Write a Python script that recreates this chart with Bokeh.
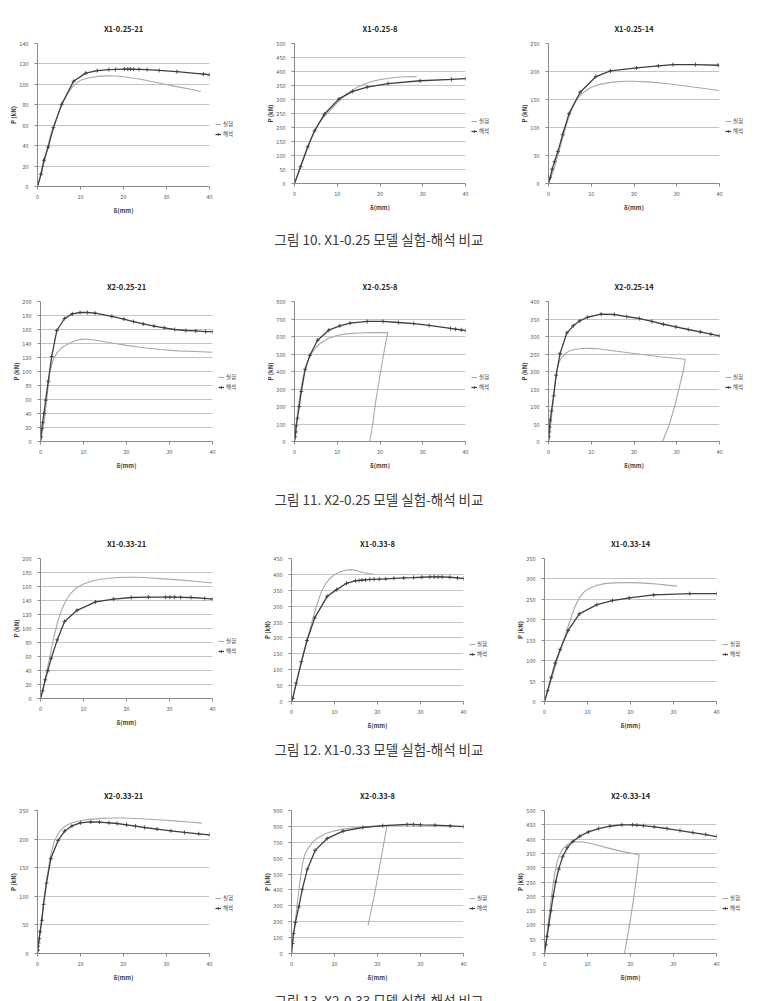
from bokeh.plotting import figure
from bokeh.layouts import column, row
from bokeh.models import Range1d, Legend, LegendItem, FixedTicker
from bokeh.core.properties import value
from bokeh.embed import file_html
from bokeh.resources import INLINE

FONT = "Noto Sans CJK KR"
TEST_COLOR = "#a9a9a9"
FEM_COLOR = "#3f3f3f"

series_labels = ["실험", "해석"]
x_ticks = [0, 10, 20, 30, 40]

# ---- X1-0.25 ----
x1_025_21_test_d = [0, 1, 2, 3, 4, 5, 6, 7, 8, 9, 10, 12, 14, 16, 18, 20, 24, 28, 32, 36, 38]
x1_025_21_test_p = [0, 14, 32, 50, 62, 73, 83, 91, 97, 101, 104, 106.5, 107.8, 108.3, 108.2, 107.5, 105, 101.5, 98, 95, 93]
x1_025_21_fem_d = [0, 0.8, 1.5, 2.5, 3.7, 5.6, 8.4, 11.2, 13.9, 16.6, 18.1, 20.2, 21.0, 21.6, 22.4, 23.6, 25.5, 28.3, 32.4, 38.6, 40]
x1_025_21_fem_p = [0, 12, 25.7, 38.7, 57.6, 80.4, 103, 111, 113.5, 114.5, 114.6, 115, 115, 114.9, 114.8, 114.7, 114.5, 113.6, 112.5, 110, 109.4]
x1_025_21_y_ticks = [0, 20, 40, 60, 80, 100, 120, 140]

x1_025_8_test_d = [0, 1, 2, 3, 4, 5, 6, 7, 8, 10, 12, 14, 16, 18, 20, 22, 24, 26, 28, 28.6]
x1_025_8_test_p = [0, 40, 82, 125, 165, 198, 222, 240, 256, 288, 318, 338, 353, 364, 371, 376, 379.5, 381.5, 382, 381]
x1_025_8_fem_d = [0, 1.4, 3.1, 4.7, 7.0, 10.4, 13.6, 17.0, 21.9, 29.4, 36.7, 40]
x1_025_8_fem_p = [0, 60, 131, 188, 248, 302, 329, 344, 357, 367, 372, 374.5]
x1_025_8_y_ticks = [0, 50, 100, 150, 200, 250, 300, 350, 400, 450, 500]

x1_025_14_test_d = [0, 1, 2, 3, 4, 5, 6, 7, 8, 10, 12, 15, 18, 20, 24, 28, 32, 36, 40]
x1_025_14_test_p = [0, 20, 45, 72, 100, 124, 142, 154, 162, 172, 177, 181, 182.5, 182.5, 181, 178, 174, 170, 166]
x1_025_14_fem_d = [0, 0.4, 0.86, 1.4, 2.2, 3.3, 4.8, 7.4, 11.1, 14.5, 20.6, 25.7, 29.1, 34.4, 39.7]
x1_025_14_fem_p = [0, 10.7, 25.7, 38.8, 57, 87, 124.7, 163, 191, 201, 206.4, 210, 212.4, 212.4, 211.2]
x1_025_14_y_ticks = [0, 50, 100, 150, 200, 250]

# ---- X2-0.25 ----
x2_025_21_test_d = [0, 1, 1.8, 2.2, 3, 4, 5, 6, 7, 8, 9, 10, 11, 12, 14, 16, 18, 20, 24, 28, 32, 36, 40]
x2_025_21_test_p = [0, 35, 80, 100, 118, 128, 134, 138, 141, 143.5, 145.5, 146.3, 146, 145.3, 143.5, 141.5, 139.3, 137.3, 134, 131.5, 129.5, 128.5, 127.5]
x2_025_21_fem_d = [0, 0.15, 0.3, 0.5, 0.8, 1.2, 1.8, 2.6, 3.8, 5.6, 7.4, 9.2, 10.9, 12.7, 16.6, 19.4, 21.6, 23.9, 26.4, 28.8, 31.2, 33.8, 36.1, 38.4, 40]
x2_025_21_fem_p = [0, 6.7, 18.6, 27, 40, 59, 86, 121.4, 158.6, 175.7, 182.4, 184.3, 184.3, 183.3, 178.6, 174.8, 171.4, 168, 164.8, 162.4, 160, 158.6, 158, 157, 157]
x2_025_21_y_ticks = [0, 20, 40, 60, 80, 100, 120, 140, 160, 180, 200]

x2_025_8_test_d = [0, 0.5, 1, 1.5, 2, 2.5, 3, 4, 5, 6, 8, 10, 12, 15, 18, 21.8, 21.0, 20.0, 19.0, 18.3, 17.6]
x2_025_8_test_p = [0, 120, 220, 300, 365, 415, 455, 505, 537, 560, 590, 606, 615, 620, 622, 623, 520, 380, 230, 100, 0]
x2_025_8_fem_d = [0, 0.15, 0.3, 0.4, 0.7, 1.1, 1.6, 2.5, 3.6, 5.4, 8.0, 10.6, 13.0, 17.0, 20.7, 24.3, 27.9, 31.5, 36.5, 37.7, 39.0, 40]
x2_025_8_fem_p = [0, 26.7, 55, 89.5, 133, 200, 286, 413, 493, 579, 636, 661, 676, 686, 686, 680, 674, 663, 646, 642, 638, 634]
x2_025_8_y_ticks = [0, 100, 200, 300, 400, 500, 600, 700, 800]

x2_025_14_test_d = [0, 0.5, 1, 1.5, 2, 2.5, 3, 4, 5, 6, 8, 10, 12, 16, 21.4, 26, 32, 31.5, 30.5, 29.5, 28.3, 26.7]
x2_025_14_test_p = [0, 45, 105, 165, 205, 227, 240, 252, 259, 263, 265.5, 266, 264.5, 258, 249.5, 242, 235, 200, 150, 100, 50, 0]
x2_025_14_fem_d = [0, 0.08, 0.15, 0.23, 0.4, 0.7, 1.2, 1.8, 2.7, 4.3, 5.8, 7.3, 9.1, 12.3, 15.4, 18.3, 21.3, 24.2, 26.9, 29.8, 32.7, 35.5, 38.0, 40]
x2_025_14_fem_p = [0, 13.3, 27.6, 41, 61, 87.6, 130.5, 189.5, 251, 310.5, 330.5, 344.8, 355, 363.8, 362.9, 357, 351.4, 343, 335, 327.6, 320, 313, 306.7, 302]
x2_025_14_y_ticks = [0, 50, 100, 150, 200, 250, 300, 350, 400]

# ---- X1-0.33 ----
x1_033_21_test_d = [0, 1, 2, 3, 4, 5, 6, 7, 8, 9, 10, 12, 14, 16, 18, 20, 22, 24, 28, 32, 36, 40]
x1_033_21_test_p = [0, 25, 55, 85, 110, 128, 141, 150, 156, 160.5, 163.5, 167.8, 170.3, 171.8, 172.8, 173.3, 173.3, 172.8, 171.3, 169.5, 167.5, 165]
x1_033_21_fem_d = [0, 0.5, 1.1, 1.7, 2.5, 3.9, 5.6, 8.5, 12.8, 17.0, 21.1, 25.1, 29.1, 30.1, 31.2, 32.6, 35.0, 38.2, 40]
x1_033_21_fem_p = [0, 11, 26.7, 39.5, 57.6, 83.8, 110, 126, 138, 142, 144.3, 144.8, 144.8, 144.8, 144.8, 144.6, 144.3, 142.9, 142]
x1_033_21_y_ticks = [0, 20, 40, 60, 80, 100, 120, 140, 160, 180, 200]

x1_033_8_test_d = [0, 1, 2, 3, 4, 5, 6, 7, 8, 9, 10, 11, 12, 13, 14, 15, 16, 17, 18, 19.1]
x1_033_8_test_p = [0, 52, 106, 160, 213, 262, 308, 348, 372, 388, 399, 406, 411, 414, 415, 412, 408, 405, 402.5, 401]
x1_033_8_fem_d = [0, 0.3, 1.1, 2.3, 3.6, 5.4, 8.3, 10.5, 12.8, 14.9, 15.7, 16.4, 17.2, 18.2, 19.2, 20.4, 21.9, 23.8, 26.1, 28.4, 30.3, 32.2, 33.2, 34.1, 35.0, 36.8, 38.6, 40]
x1_033_8_fem_p = [0, 10, 58, 125, 192, 263, 331, 352, 372, 380, 381, 382, 383, 384, 384.5, 385, 386, 387.5, 389, 390, 391, 392, 392, 392, 392, 391, 389, 387]
x1_033_8_y_ticks = [0, 50, 100, 150, 200, 250, 300, 350, 400, 450]

x1_033_14_test_d = [0, 1, 2, 3, 4, 5, 6, 7, 8, 9, 10, 12, 14, 16, 18, 20, 22, 24, 26, 28, 30.8]
x1_033_14_test_p = [0, 32, 68, 103, 137, 168, 200, 230, 252, 266, 275, 284, 288.5, 290.3, 291, 291, 290.3, 289, 287.5, 285.5, 282.5]
x1_033_14_fem_d = [0, 0.7, 1.55, 2.5, 3.65, 5.5, 8.1, 12.2, 15.8, 19.7, 25.4, 33.8, 40]
x1_033_14_fem_p = [0, 26, 59, 94, 127.5, 174, 214.5, 237, 247, 253.5, 260.8, 264, 264]
x1_033_14_y_ticks = [0, 50, 100, 150, 200, 250, 300, 350]

# ---- X2-0.33 ----
x2_033_21_test_d = [0, 1, 2, 3, 4, 5, 6, 7, 8, 10, 12, 15, 18, 20, 24, 28, 32, 36, 38.2]
x2_033_21_test_p = [0, 62, 124, 170, 198, 212, 220, 225, 228.5, 232, 234.5, 236.3, 236.8, 236.8, 235.5, 233.8, 231.8, 229.5, 228]
x2_033_21_fem_d = [0, 0.08, 0.15, 0.23, 0.4, 0.6, 1.0, 1.4, 2.1, 3.1, 4.8, 6.3, 8.0, 10.0, 12.4, 14.4, 16.6, 18.5, 20.7, 22.8, 24.9, 27.8, 31.0, 34.2, 37.5, 40]
x2_033_21_fem_p = [0, 5.8, 12.8, 18.6, 26, 38, 58, 86, 123, 166, 197.7, 214, 223, 228.5, 230, 229.7, 228.5, 227.3, 225, 222.7, 220.3, 217.4, 214.5, 211.6, 209.3, 207.5]
x2_033_21_y_ticks = [0, 50, 100, 150, 200, 250]

x2_033_8_test_d = [0, 0.5, 1, 1.5, 2, 2.5, 3, 3.5, 4, 5, 6, 8, 10, 12, 15, 18, 22.2, 21.5, 20.5, 19.5, 18.6, 17.8]
x2_033_8_test_p = [0, 110, 230, 350, 460, 555, 615, 645, 668, 702, 726, 755, 772, 783, 793, 799, 804, 700, 550, 400, 280, 176]
x2_033_8_fem_d = [0, 0.2, 0.45, 0.9, 1.7, 2.5, 3.7, 5.5, 8.3, 12.0, 16.6, 21.2, 26.9, 28.4, 30.0, 33.4, 36.9, 40]
x2_033_8_fem_p = [0, 63, 125, 195, 293, 404, 531, 649, 724, 770, 793, 805, 812, 812, 810, 807.5, 803, 799]
x2_033_8_y_ticks = [0, 100, 200, 300, 400, 500, 600, 700, 800, 900]

x2_033_14_test_d = [0, 0.5, 1, 1.5, 2, 2.5, 3, 4, 5, 6, 7, 8, 9, 10, 12, 14, 16, 18, 20, 22, 21.5, 20.8, 20.0, 19.3, 18.6]
x2_033_14_test_p = [0, 60, 125, 185, 240, 290, 325, 360, 378, 386, 390, 391, 390, 387, 380, 372, 364, 357, 351, 345, 280, 200, 120, 60, 0]
x2_033_14_fem_d = [0, 0.3, 0.6, 1.0, 1.5, 2.0, 2.6, 3.3, 4.2, 5.3, 6.6, 8.2, 10.2, 12.6, 15.2, 18.0, 20.5, 21.5, 23.0, 25.5, 28.5, 31.5, 34.5, 37.5, 40]
x2_033_14_fem_p = [0, 30, 60, 100, 150, 200, 250, 295, 338, 370, 392, 410, 425, 437, 445, 450, 450, 449, 447, 443, 437, 430, 423, 416, 409]
x2_033_14_y_ticks = [0, 50, 100, 150, 200, 250, 300, 350, 400, 450, 500]

captions = [
    "그림 10. X1-0.25 모델 실험-해석 비교",
    "그림 11. X2-0.25 모델 실험-해석 비교",
    "그림 12. X1-0.33 모델 실험-해석 비교",
    "그림 13. X2-0.33 모델 실험-해석 비교",
]

COL_W = [252, 253, 252]
ROW_H = [225, 233, 223, 223]
CAP_H = [27, 27, 27, 16]
CAP_Y = [14 / 27, 14 / 27, 14 / 27, 2 / 16]
GAP_R = 4  # space kept right of the data frame inside the chart figure


def draw_test(fig, xs, ys):
    return fig.line(xs, ys, line_color=TEST_COLOR, line_width=1.1)


def draw_fem(fig, xs, ys):
    r1 = fig.line(xs, ys, line_color=FEM_COLOR, line_width=1.3)
    r2 = fig.scatter(xs, ys, marker="cross", size=4, line_color=FEM_COLOR, line_width=0.9)
    return r1, r2


def panel(title, test_d, test_p, fem_d, fem_p, y_ticks, w, h, bl, br, bt, bb):
    pw = w - br + GAP_R
    p = figure(width=pw, height=h, output_backend="svg", toolbar_location=None,
               x_range=Range1d(0, 40), y_range=Range1d(0, y_ticks[-1]),
               min_border_left=bl, min_border_right=GAP_R, min_border_top=bt,
               min_border_bottom=bb, title=title)
    p.outline_line_color = None
    p.title.align = "center"
    p.title.text_font = FONT
    p.title.text_font_size = "7.5px"
    p.title.text_font_style = "bold"
    p.title.text_color = "#262626"
    p.title.standoff = 20

    p.xgrid.visible = False
    p.ygrid.grid_line_color = "#c4c4c4"
    p.ygrid.grid_line_width = 1

    p.xaxis.ticker = FixedTicker(ticks=x_ticks)
    p.yaxis.ticker = FixedTicker(ticks=y_ticks)
    for ax in (p.xaxis[0], p.yaxis[0]):
        ax.axis_line_color = "#8a8a8a"
        ax.major_tick_line_color = "#8a8a8a"
        ax.major_tick_out = 3
        ax.major_tick_in = 0
        ax.minor_tick_line_color = None
        ax.major_label_text_font = FONT
        ax.major_label_text_font_size = "5.5px"
        ax.major_label_text_color = "#595959"
        ax.axis_label_text_font = FONT
        ax.axis_label_text_font_size = "6px"
        ax.axis_label_text_font_style = "bold"
        ax.axis_label_text_color = "#404040"
    p.xaxis.axis_label = "δ(mm)"
    p.yaxis.axis_label = "P (kN)"
    p.xaxis.major_label_standoff = 4
    p.xaxis.axis_label_standoff = 4
    p.yaxis.major_label_standoff = 6
    p.yaxis.axis_label_standoff = -2

    draw_test(p, test_d, test_p)
    draw_fem(p, fem_d, fem_p)

    # key for the two series, in a narrow strip right of the chart; the same
    # series are drawn there outside its view so only the key shows
    lw = br - GAP_R
    lf = figure(width=lw, height=h, output_backend="svg", toolbar_location=None,
                x_range=Range1d(-2, -1), y_range=Range1d(-2, -1),
                x_axis_type=None, y_axis_type=None, min_border=0)
    lf.outline_line_color = None
    lf.grid.visible = False
    k_test = draw_test(lf, test_d, test_p)
    k_fem = draw_fem(lf, fem_d, fem_p)
    legend = Legend(items=[LegendItem(label=series_labels[0], renderers=[k_test]),
                           LegendItem(label=series_labels[1], renderers=list(k_fem))],
                    location=(6 - GAP_R, h - bt - 134), orientation="vertical",
                    label_text_font=FONT, label_text_font_size="5.5px",
                    label_text_color="#404040",
                    glyph_width=6, glyph_height=8, label_height=8, label_width=10,
                    label_standoff=2, spacing=2, padding=0, margin=0,
                    border_line_color=None, background_fill_alpha=0)
    lf.add_layout(legend)
    return row(p, lf, spacing=0)


def caption(text, h, fy):
    c = figure(width=757, height=h, output_backend="svg", toolbar_location=None,
               x_range=Range1d(0, 1), y_range=Range1d(0, 1),
               x_axis_type=None, y_axis_type=None, min_border=0)
    c.outline_line_color = None
    c.grid.visible = False
    c.text(x=[0.5], y=[fy], text=[text], text_align="center", text_baseline="middle",
           text_font=value(FONT), text_font_size="13.5px", text_color="#3a3a3a")
    return c


rows_spec = [
    [("X1-0.25-21", x1_025_21_test_d, x1_025_21_test_p, x1_025_21_fem_d, x1_025_21_fem_p, x1_025_21_y_ticks, 37, 43, 43, 39),
     ("X1-0.25-8", x1_025_8_test_d, x1_025_8_test_p, x1_025_8_fem_d, x1_025_8_fem_p, x1_025_8_y_ticks, 42, 40, 43, 42),
     ("X1-0.25-14", x1_025_14_test_d, x1_025_14_test_p, x1_025_14_fem_d, x1_025_14_fem_p, x1_025_14_y_ticks, 43, 38, 43, 42)],
    [("X2-0.25-21", x2_025_21_test_d, x2_025_21_test_p, x2_025_21_fem_d, x2_025_21_fem_p, x2_025_21_y_ticks, 40, 40, 49, 44),
     ("X2-0.25-8", x2_025_8_test_d, x2_025_8_test_p, x2_025_8_fem_d, x2_025_8_fem_p, x2_025_8_y_ticks, 42, 40, 49, 44),
     ("X2-0.25-14", x2_025_14_test_d, x2_025_14_test_p, x2_025_14_fem_d, x2_025_14_fem_p, x2_025_14_y_ticks, 43, 38, 49, 44)],
    [("X1-0.33-21", x1_033_21_test_d, x1_033_21_test_p, x1_033_21_fem_d, x1_033_21_fem_p, x1_033_21_y_ticks, 40, 40, 46, 37),
     ("X1-0.33-8", x1_033_8_test_d, x1_033_8_test_p, x1_033_8_fem_d, x1_033_8_fem_p, x1_033_8_y_ticks, 39, 42, 46, 34),
     ("X1-0.33-14", x1_033_14_test_d, x1_033_14_test_p, x1_033_14_fem_d, x1_033_14_fem_p, x1_033_14_y_ticks, 39, 41, 46, 34)],
    [("X2-0.33-21", x2_033_21_test_d, x2_033_21_test_p, x2_033_21_fem_d, x2_033_21_fem_p, x2_033_21_y_ticks, 37, 43, 48, 32),
     ("X2-0.33-8", x2_033_8_test_d, x2_033_8_test_p, x2_033_8_fem_d, x2_033_8_fem_p, x2_033_8_y_ticks, 39, 42, 48, 32),
     ("X2-0.33-14", x2_033_14_test_d, x2_033_14_test_p, x2_033_14_fem_d, x2_033_14_fem_p, x2_033_14_y_ticks, 39, 41, 48, 32)],
]

blocks = []
for ri, spec in enumerate(rows_spec):
    cells = []
    for ci, (t, td, tp, fd, fp, yt, bl, br, bt, bb) in enumerate(spec):
        cells.append(panel(t, td, tp, fd, fp, yt, COL_W[ci], ROW_H[ri], bl, br, bt, bb))
    blocks.append(row(*cells, spacing=0))
    blocks.append(caption(captions[ri], CAP_H[ri], CAP_Y[ri]))

page = column(*blocks, spacing=0)

with open("out.html", "w") as f:
    f.write(file_html(page, INLINE))
